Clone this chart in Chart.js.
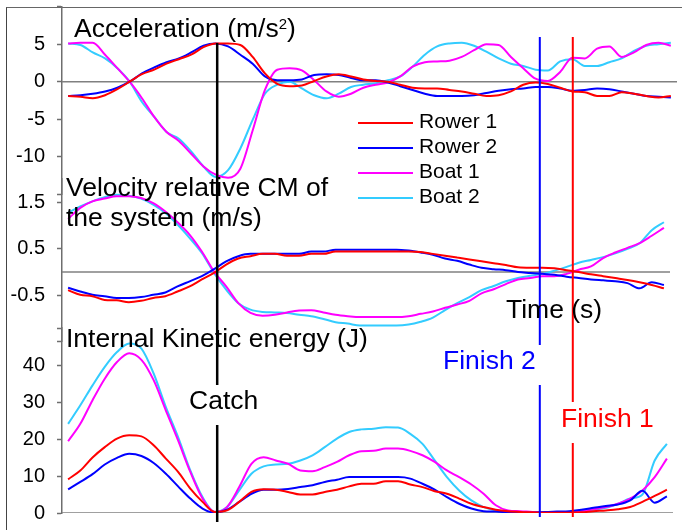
<!DOCTYPE html>
<html><head><meta charset="utf-8">
<script src="https://cdn.jsdelivr.net/npm/chart.js@4.4.1/dist/chart.umd.min.js"></script>
<style>
html,body{margin:0;padding:0;background:#fff;}
#wrap{position:relative;width:682px;height:530px;overflow:hidden;font-family:"Liberation Sans",Arial,sans-serif;color:#000;}
#wrap canvas{position:absolute;left:0;top:0;}
#frame{position:absolute;left:6px;top:7px;width:700px;height:560px;border-left:1.5px solid #444;border-top:1.5px solid #666;}
.txt{position:absolute;white-space:nowrap;font-size:26.5px;line-height:26px;}
.lg{position:absolute;white-space:nowrap;font-size:21px;line-height:21px;left:419px;}
.lgl{position:absolute;height:2px;width:55px;left:358px;}
</style></head><body>
<div id="wrap">
<div id="frame"></div>
<canvas id="cAcc" width="682" height="530" style="width:682px;height:530px"></canvas>
<canvas id="cVel" width="682" height="530" style="width:682px;height:530px"></canvas>
<canvas id="cKin" width="682" height="530" style="width:682px;height:530px"></canvas>
<div class="txt" style="left:74px;top:15px">Acceleration (m/s<span style="font-size:15px;position:relative;top:-8px">2</span>)</div>
<div class="txt" style="left:66px;top:172px;line-height:30px">Velocity relative CM of<br>the system (m/s)</div>
<div class="txt" style="left:66px;top:325px">Internal Kinetic energy (J)</div>
<div class="txt" style="left:189px;top:387px">Catch</div>
<div class="txt" style="left:506px;top:296px">Time (s)</div>
<div class="txt" style="left:443px;top:347px;color:#0000FF">Finish 2</div>
<div class="txt" style="left:561px;top:405px;color:#FF0000">Finish 1</div>
<div id="legend"></div>
</div>
<script>
// ---------- data ----------
const time = [1,3,5,7,9,11,13,15,17,19,21,23,25,27,29,31,33,35,37,39,41,43,45,47,49,
              51,53,55,57,59,61,63,65,67,69,71,73,75,77,79,81,83,85,87,89,91,93,95,97,99];
const seriesNames = ['Rower 1','Rower 2','Boat 1','Boat 2'];
const seriesColors = ['#FF0000','#0000FF','#FF00FF','#33CCFF'];

const accRower1 = [-1.9,-2.0,-2.2,-1.8,-1.0,0,1.0,1.6,2.4,3.0,3.6,4.6,5.1,5.1,4.9,3.3,1.1,-0.3,-0.6,-0.5,0.1,0.7,1.0,0.7,0.3,
                   0.1,0,-0.4,-0.8,-0.9,-0.9,-1.1,-1.3,-1.6,-1.9,-1.8,-1.3,-0.4,-0.1,-0.3,-0.8,-1.3,-1.4,-1.9,-1.9,-1.4,-1.6,-1.9,-2.1,-1.9];
const accRower2 = [-1.9,-1.8,-1.6,-1.3,-0.8,0,1.1,1.9,2.6,3.1,3.9,4.8,5.1,4.7,3.6,2.4,0.7,0.2,0.2,0.3,0.9,1.0,0.9,0.5,0.2,
                   0.2,-0.1,-0.6,-1.1,-1.6,-1.9,-1.9,-1.9,-1.8,-1.5,-1.2,-1.0,-0.9,-0.7,-0.7,-0.9,-1.2,-1.1,-0.9,-1.0,-1.3,-1.6,-1.9,-2.0,-2.1];
const accBoat1  = [5.1,5.2,5.2,3.6,1.8,0,-2.2,-4.7,-6.7,-7.9,-9.6,-11.3,-12.4,-12.8,-11.6,-6.5,-1.1,1.6,1.8,1.5,0.2,-1.3,-2.0,-1.6,-0.8,
                   -0.4,-0.1,0.7,2.0,2.6,2.7,2.8,3.3,4.2,5.0,4.9,3.3,1.8,0.4,0.1,1.3,3.2,3.1,4.4,4.7,3.3,3.9,4.9,5.2,4.8];
const accBoat2  = [5.1,4.9,3.9,3.1,1.8,0,-2.7,-4.7,-6.7,-7.6,-9.3,-11.3,-12.7,-11.8,-8.9,-5.1,-1.6,-0.4,0,-0.9,-1.8,-2.2,-1.6,-0.7,-0.4,
                   -0.2,0.2,0.7,2.0,3.6,4.7,5.1,5.2,4.8,4.0,3.1,2.4,2.1,1.6,1.5,2.7,3.0,2.1,2.1,2.6,3.1,4.1,4.8,5.0,5.2];

const velRower1 = [-0.39,-0.49,-0.52,-0.6,-0.61,-0.65,-0.62,-0.56,-0.52,-0.42,-0.31,-0.16,-0.02,0.16,0.29,0.34,0.39,0.39,0.35,0.35,0.39,0.39,0.44,0.44,0.44,
                   0.44,0.44,0.44,0.44,0.43,0.39,0.35,0.31,0.27,0.23,0.19,0.15,0.1,0.09,0.09,0.08,0.04,0.0,-0.05,-0.09,-0.13,-0.17,-0.22,-0.28,-0.35];
const velRower2 = [-0.34,-0.42,-0.49,-0.52,-0.56,-0.56,-0.54,-0.49,-0.44,-0.31,-0.2,-0.09,0.06,0.23,0.34,0.39,0.39,0.39,0.39,0.39,0.44,0.44,0.48,0.48,0.48,
                   0.48,0.48,0.48,0.46,0.42,0.37,0.29,0.24,0.16,0.09,0.06,0.04,0.0,-0.02,-0.04,-0.06,-0.1,-0.13,-0.16,-0.18,-0.2,-0.24,-0.35,-0.22,-0.28];
const velBoat1  = [1.14,1.38,1.52,1.58,1.63,1.63,1.59,1.48,1.3,1.07,0.8,0.44,0.01,-0.31,-0.67,-0.88,-0.94,-0.92,-0.87,-0.83,-0.82,-0.87,-0.92,-0.95,-0.97,
                   -0.97,-0.97,-0.97,-0.95,-0.9,-0.85,-0.77,-0.7,-0.62,-0.46,-0.37,-0.26,-0.16,-0.13,-0.09,-0.09,-0.04,0.05,0.12,0.3,0.42,0.52,0.62,0.78,0.95];
const velBoat2  = [1.27,1.41,1.52,1.61,1.66,1.64,1.58,1.45,1.27,1.02,0.73,0.41,-0.02,-0.38,-0.67,-0.81,-0.86,-0.87,-0.88,-0.92,-0.95,-1.01,-1.08,-1.11,-1.15,
                   -1.15,-1.15,-1.15,-1.13,-1.07,-0.98,-0.82,-0.67,-0.54,-0.39,-0.3,-0.2,-0.13,-0.08,-0.04,0.03,0.11,0.2,0.26,0.32,0.4,0.5,0.62,0.9,1.07];

const kinRower1 = [9.1,11.5,15,17.8,20.1,21,20.7,18.3,14.7,11.1,6.6,3.0,0.3,0.7,3.0,5.7,6.4,6.3,5.7,5.0,5.0,5.7,6.3,7.2,7.9,
                   7.9,8.6,8.6,7.7,7.0,5.9,5.2,3.9,2.5,1.6,0.9,0.5,0.3,0.2,0.1,0.1,0.1,0.2,0.5,0.7,1.0,1.6,3.0,4.6,6.3];
const kinRower2 = [6.4,8.4,10.5,13.1,14.9,16.0,15.4,13.5,10.6,7.2,3.9,1.2,0.1,0.9,3.0,5.2,6.3,6.3,6.5,7.0,7.5,8.4,9.0,9.7,9.7,
                   9.7,9.7,9.7,9.3,7.9,6.3,4.3,2.5,1.2,0.5,0.4,0.2,0.1,0.1,0.3,0.4,0.5,0.9,1.4,1.9,2.3,3.4,6.0,2.8,4.5];
const kinBoat1  = [19.4,24.1,30.5,36.3,40.8,43.2,41.4,35.9,27.7,19.6,11.1,3.9,0.3,1.6,7.0,13.3,15.1,14.2,13.3,11.5,11.3,12.4,13.8,15.6,16.7,
                   16.8,17.4,17.4,16.8,15.6,13.8,11.5,9.7,7.7,5.2,2.1,0.7,0.5,0.3,0.2,0.2,0.2,0.5,1.0,1.6,2.5,3.9,6.1,9.7,14.7];
const kinBoat2  = [24.1,29.1,34.5,39.5,43.5,45.8,44.4,37.7,28.6,20.5,11.5,4.3,0.3,1.6,6.1,10.6,12.6,13.1,13.3,14.2,15.6,17.8,20.1,21.9,22.6,
                   22.8,23.2,23.1,21.4,18.7,14.2,9.7,6.1,3.4,1.6,0.7,0.4,0.2,0.1,0.1,0.1,0.2,0.5,0.9,1.4,2.5,3.9,5.0,14.2,18.7];

const accTicks = [-15,-10,-5,0,5,10];   const accLabels = [-10,-5,0,5];
const velTicks = [-1.5,-0.5,0.5,1.5];   const velLabels = [-0.5,0.5,1.5];
const kinTicks = [0,10,20,30,40,50];    const kinLabels = [0,10,20,30,40];

const eventNames = ['Catch','Finish 2','Finish 1'];
const eventTimes = [25.4, 78.2, 83.6];
const eventColors = ['#000000','#0000FF','#FF0000'];

// ---------- rendering ----------
Chart.defaults.font.family = '"Liberation Sans", Arial, sans-serif';

function toXY(arr){ return arr.map((v,i)=>({x:time[i], y:v})); }

function yScale(min,max,tickVals,labelVals){
  return {
    type:'linear', min:min, max:max,
    afterBuildTicks: s => { s.ticks = tickVals.map(v => ({value:v})); },
    afterFit: s => { s.width = 62; s.paddingTop = 0; s.paddingBottom = 0; },
    border:{display:true, color:'#6e6e6e', width:1.5},
    grid:{display:true, drawOnChartArea:false, drawTicks:true, tickLength:5, tickColor:'#6e6e6e', tickWidth:1.5},
    ticks:{padding:12, color:'#000', font:{size:20}, autoSkip:false,
      callback: v => labelVals.includes(v) ? String(v) : ''}
  };
}

function makeChart(id, arrays, yMin, yMax, tickVals, labelVals, pad, plugins){
  const ds = arrays.map((a,i)=>({
    label: seriesNames[i], data: toXY(a), borderColor: seriesColors[i],
    borderWidth:2, pointRadius:0, fill:false, cubicInterpolationMode:'monotone'
  }));
  ds.push({label:'zero', data:[{x:0,y:0},{x:100,y:0}], borderColor:'#808080', borderWidth:1.5, pointRadius:0, fill:false});
  return new Chart(document.getElementById(id), {
    type:'line',
    data:{datasets:ds},
    options:{
      responsive:false, devicePixelRatio:1, animation:false,
      layout:{padding:pad, autoPadding:false},
      plugins:{legend:{display:false}, tooltip:{enabled:false}},
      scales:{
        x:{type:'linear', min:0, max:100, display:false},
        y:yScale(yMin,yMax,tickVals,labelVals)
      }
    },
    plugins: plugins || []
  });
}

const eventSegments = [[[43,385],[425,522]], [[37,345],[385,517]], [[37,402],[443,517]]];
const eventWidths = [2.5, 2, 2];
const markerPlugin = {
  id:'markers',
  afterDatasetsDraw(chart){
    const ctx = chart.ctx, xs = chart.scales.x;
    eventTimes.forEach((t,i)=>{
      const x = xs.getPixelForValue(t);
      ctx.save();
      ctx.strokeStyle = eventColors[i];
      ctx.lineWidth = eventWidths[i];
      eventSegments[i].forEach(seg=>{
        ctx.beginPath(); ctx.moveTo(x,seg[0]); ctx.lineTo(x,seg[1]); ctx.stroke();
      });
      ctx.restore();
    });
  }
};

makeChart('cAcc', [accRower1,accRower2,accBoat1,accBoat2], -15, 10, accTicks, accLabels,
  {left:0, right:5, top:6.7, bottom:335.8});
makeChart('cVel', [velRower1,velRower2,velBoat1,velBoat2], -1.5, 2, velTicks, velLabels,
  {left:0, right:12, top:179, bottom:188.25});
makeChart('cKin', [kinRower1,kinRower2,kinBoat1,kinBoat2], 0, 50, kinTicks, kinLabels,
  {left:0, right:9, top:328, bottom:17}, [markerPlugin]);

// legend
const lg = document.getElementById('legend');
seriesNames.forEach((n,i)=>{
  const top = 110 + i*25;
  const l = document.createElement('div'); l.className='lgl';
  l.style.top = (top+12)+'px'; l.style.background = seriesColors[i];
  const t = document.createElement('div'); t.className='lg';
  t.style.top = top+'px'; t.textContent = n;
  lg.appendChild(l); lg.appendChild(t);
});
</script>
</body></html>
